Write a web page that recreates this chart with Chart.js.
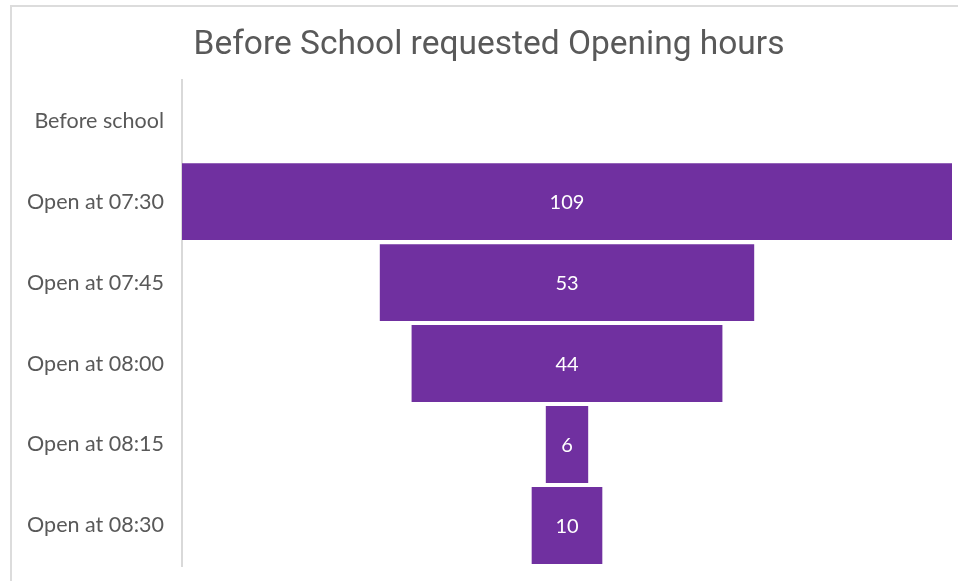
<!DOCTYPE html>
<html>
<head>
<meta charset="utf-8">
<script src="https://cdn.jsdelivr.net/npm/chart.js@4/dist/chart.umd.min.js"></script>
<style>
    html, body { margin: 0; padding: 0; background: #fff; overflow: hidden; }
    #wrap { position: relative; width: 958px; height: 581px; }
    #frame { position: absolute; left: 10px; top: 5px; width: 960px; height: 590px;
             border-left: 2px solid #dcdcdc; border-top: 2px solid #dcdcdc; }
    canvas { position: absolute; left: 0; top: 0; }
</style>
</head>
<body>
<div id="wrap">
    <div id="frame"></div>
    <canvas id="funnelChart" width="958" height="581"></canvas>
</div>
<script>
// Categories and counts
const categories = ['Before school', 'Open at 07:30', 'Open at 07:45', 'Open at 08:00', 'Open at 08:15', 'Open at 08:30'];
const counts = [null, 109, 53, 44, 6, 10];

const maxCount = Math.max(...counts.filter(v => v !== null));
const middle = maxCount / 2;

// Funnel: each bar floats around the middle of the axis
const funnelData = counts.map(v => v === null ? null : [middle - v / 2, middle + v / 2]);

// Write the count in the middle of each bar
const barLabels = {
    id: 'barLabels',
    afterDatasetsDraw(chart) {
        const ctx = chart.ctx;
        const meta = chart.getDatasetMeta(0);
        ctx.save();
        ctx.font = '20px Lato, "Noto Sans", sans-serif';
        ctx.fillStyle = '#ffffff';
        ctx.textAlign = 'center';
        ctx.textBaseline = 'middle';
        meta.data.forEach((bar, i) => {
            if (counts[i] === null) return;
            ctx.fillText(String(counts[i]), bar.x - (bar.x - bar.base) / 2, bar.y + 1);
        });
        ctx.restore();
    }
};

// Let the category labels use the space left of the axis box
const widenLabels = {
    id: 'widenLabels',
    afterLayout(chart) {
        chart.scales.y.left = 0;
    }
};

const ctx = document.getElementById('funnelChart').getContext('2d');
new Chart(ctx, {
    type: 'bar',
    data: {
        labels: categories,
        datasets: [{
            data: funnelData,
            backgroundColor: '#7030A0',
            borderWidth: 0,
            barPercentage: 0.95,
            categoryPercentage: 1.0
        }]
    },
    options: {
        indexAxis: 'y',
        responsive: false,
        animation: false,
        layout: {
            padding: { left: 26, right: 6, top: 0, bottom: 15 }
        },
        scales: {
            x: {
                display: false,
                min: 0,
                max: maxCount
            },
            y: {
                grid: { display: false },
                border: { display: true, color: '#d9d9d9', width: 2 },
                ticks: {
                    color: '#595959',
                    padding: 10,
                    font: { family: 'Lato, "Noto Sans", sans-serif', size: 21.5 }
                },
                afterFit: function(scale) {
                    scale.width = 156;
                    scale.paddingTop = 0;
                    scale.paddingBottom = 0;
                }
            }
        },
        plugins: {
            legend: { display: false },
            tooltip: { enabled: false },
            title: {
                display: true,
                text: 'Before School requested Opening hours',
                color: '#595959',
                padding: { top: 26, bottom: 14 },
                font: { family: '"Liberation Sans Narrow", Roboto, sans-serif', size: 33.5, weight: 'normal' }
            }
        }
    },
    plugins: [barLabels, widenLabels]
});
</script>
</body>
</html>
